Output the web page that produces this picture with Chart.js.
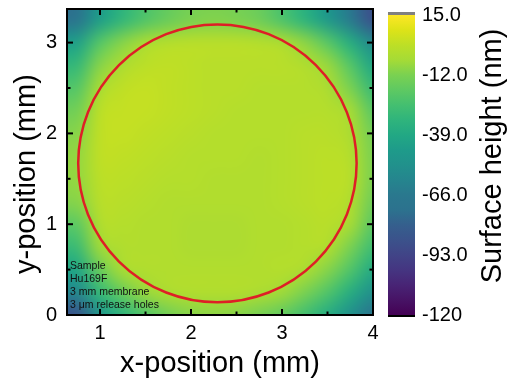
<!DOCTYPE html>
<html lang="en">
<head>
<meta charset="UTF-8">
<title>Surface height map</title>
<script src="https://cdn.jsdelivr.net/npm/chart.js@4.4.1/dist/chart.umd.min.js"></script>
<style>
  html, body { margin: 0; padding: 0; background: #fff; }
</style>
</head>
<body>
<canvas id="map" width="508" height="381"></canvas>
<script>
// measurement grid, cell centres in mm (rows listed top to bottom)
const xCenters = [0.75, 1.0, 1.25, 1.5, 1.75, 2.0, 2.25, 2.5, 2.75, 3.0, 3.25, 3.5, 3.75, 4.0];
const yCenters = [3.25, 3.0, 2.75, 2.5, 2.25, 2.0, 1.75, 1.5, 1.25, 1.0, 0.75, 0.5, 0.25, 0.0];
const cellSize = 0.25;

// surface height in nm
const heightGrid = [
  [-70, -44, -31, -22, -16, -12, -11, -12, -15, -23, -33, -47, -65, -87],
  [-43, -21, -10,  -4,  -1,   0,   0,   0,  -1,  -3,  -9, -20, -36, -57],
  [-30, -10,  -3,   1,   2,   1,   0,   0,   0,   0,  -2,  -7, -21, -40],
  [-21,  -4,   2,   3,   2,   1,   0,   0,  -1,  -1,  -1,  -3, -12, -29],
  [-14,   1,   3,   3,   2,   1,   0,  -1,  -1,  -1,  -1,  -1,  -5, -20],
  [-10,   2,   3,   2,   1,   0,  -1,  -1,  -1,  -1,   0,   0,  -3, -14],
  [ -8,   2,   2,   1,   0,  -1,  -1,  -1,  -2,  -1,   0,   1,  -1, -12],
  [ -8,   1,   1,   0,  -1,  -1,  -2,  -2,  -2,  -1,   0,   1,   0, -12],
  [-10,   0,   0,  -1,  -2,  -2,  -2,  -2,  -2,  -1,   0,   1,  -2, -15],
  [-19,  -2,  -1,  -2,  -2,  -3,  -3,  -3,  -2,  -2,  -1,   0,  -5, -20],
  [-28,  -6,  -2,  -2,  -2,  -3,  -3,  -3,  -2,  -2,  -1,  -2, -12, -27],
  [-40, -16,  -4,  -2,  -2,  -2,  -2,  -2,  -2,  -1,  -3, -10, -22, -38],
  [-58, -30, -16,  -7,  -3,  -2,  -2,  -2,  -3,  -6, -12, -22, -36, -53],
  [-85, -50, -33, -22, -14, -10,  -9, -10, -13, -18, -26, -37, -53, -72]
];

// fitted membrane edge (mm)
const circleCenter = [2.29, 1.67];
const circleRadius = 1.53;

const xTicks = [1, 2, 3, 4];
const xMinor = [1.5, 2.5, 3.5];
const yTicks = [0, 1, 2, 3];
const yMinor = [0.5, 1.5, 2.5];
const cbTicks = [-120, -93, -66, -39, -12, 15];
const cbLabels = ['-120', '-93.0', '-66.0', '-39.0', '-12.0', '15.0'];
const zMin = -120, zMax = 15;

const sampleNotes = ['Sample', 'Hu169F', '3 mm membrane', '3 \u03bcm release holes'];

// viridis colormap stops
const viridis = [
  [0.00, 68, 1, 84], [0.05, 71, 19, 101], [0.10, 72, 36, 117], [0.15, 69, 53, 129],
  [0.20, 65, 68, 135], [0.25, 59, 82, 139], [0.30, 53, 95, 141], [0.35, 44, 114, 142],
  [0.40, 42, 120, 142], [0.45, 37, 133, 142], [0.50, 33, 145, 140], [0.55, 30, 155, 138],
  [0.60, 34, 168, 132], [0.65, 47, 180, 124], [0.70, 68, 191, 112], [0.75, 94, 201, 98],
  [0.80, 122, 209, 81], [0.85, 165, 219, 54], [0.90, 189, 223, 38], [0.95, 221, 227, 24],
  [1.00, 253, 231, 37]
];

function colorAt(t) {
  t = Math.max(0, Math.min(1, t));
  for (let i = 1; i < viridis.length; i++) {
    const a = viridis[i - 1], b = viridis[i];
    if (t <= b[0]) {
      const f = (t - a[0]) / (b[0] - a[0]);
      return [1, 2, 3].map(k => Math.round(a[k] + (b[k] - a[k]) * f));
    }
  }
  return viridis[viridis.length - 1].slice(1);
}

const FONT = "'Liberation Sans', Arial, Helvetica, sans-serif";
Chart.defaults.font.family = FONT;
Chart.defaults.color = '#000';

function setTicks(list) {
  return s => { s.ticks = list.map(v => ({value: v})); };
}

const heatmapPlugin = {
  id: 'heatmap',
  beforeDatasetsDraw(chart) {
    const {ctx, chartArea: area, scales: {x, y}} = chart;
    const nx = xCenters.length, ny = yCenters.length;
    const img = document.createElement('canvas');
    img.width = nx; img.height = ny;
    const ictx = img.getContext('2d');
    const data = ictx.createImageData(nx, ny);
    heightGrid.forEach((row, j) => row.forEach((v, i) => {
      const c = colorAt((v - zMin) / (zMax - zMin));
      const p = (j * nx + i) * 4;
      data.data[p] = c[0]; data.data[p + 1] = c[1]; data.data[p + 2] = c[2]; data.data[p + 3] = 255;
    }));
    ictx.putImageData(data, 0, 0);

    const left = x.getPixelForValue(xCenters[0] - cellSize / 2);
    const right = x.getPixelForValue(xCenters[nx - 1] + cellSize / 2);
    const top = y.getPixelForValue(yCenters[0] + cellSize / 2);
    const bottom = y.getPixelForValue(yCenters[ny - 1] - cellSize / 2);

    ctx.save();
    ctx.beginPath();
    ctx.rect(area.left, area.top, area.right - area.left, area.bottom - area.top);
    ctx.clip();
    ctx.imageSmoothingEnabled = true;
    ctx.imageSmoothingQuality = 'high';
    ctx.drawImage(img, left, top, right - left, bottom - top);
    ctx.restore();
  },
  afterDatasetsDraw(chart) {
    const {ctx, chartArea: area, scales: {x, y, cb}} = chart;

    // membrane outline
    const cx = x.getPixelForValue(circleCenter[0]);
    const cy = y.getPixelForValue(circleCenter[1]);
    const rx = x.getPixelForValue(circleCenter[0] + circleRadius) - cx;
    const ry = cy - y.getPixelForValue(circleCenter[1] + circleRadius);
    ctx.save();
    ctx.strokeStyle = '#de1f26';
    ctx.lineWidth = 2.5;
    ctx.beginPath();
    ctx.ellipse(cx, cy, rx, ry, 0, 0, Math.PI * 2);
    ctx.stroke();

    // sample notes, bottom-left corner
    ctx.fillStyle = '#111';
    ctx.font = '10.5px ' + FONT;
    ctx.textAlign = 'left';
    ctx.textBaseline = 'middle';
    sampleNotes.forEach((t, i) => {
      ctx.fillText(t, area.left + 3, area.bottom - 10 - (sampleNotes.length - 1 - i) * 12.8);
    });

    // inward ticks on all four sides
    ctx.strokeStyle = '#000';
    ctx.lineWidth = 2;
    const tick = (x1, y1, x2, y2) => { ctx.beginPath(); ctx.moveTo(x1, y1); ctx.lineTo(x2, y2); ctx.stroke(); };
    [[xTicks, 6], [xMinor, 3.5]].forEach(([list, len]) => list.forEach(v => {
      const px = x.getPixelForValue(v);
      tick(px, area.bottom, px, area.bottom - len);
      tick(px, area.top, px, area.top + len);
    }));
    [[yTicks, 6], [yMinor, 3.5]].forEach(([list, len]) => list.forEach(v => {
      const py = y.getPixelForValue(v);
      tick(area.left, py, area.left + len, py);
      tick(area.right, py, area.right - len, py);
    }));
    ctx.strokeRect(area.left, area.top, area.right - area.left, area.bottom - area.top);

    // colour bar
    const barL = area.right + 15, barW = 27;
    const yLo = cb.getPixelForValue(zMin), yHi = cb.getPixelForValue(zMax);
    const grad = ctx.createLinearGradient(0, yLo, 0, yHi);
    viridis.forEach(s => grad.addColorStop(s[0], `rgb(${s[1]},${s[2]},${s[3]})`));
    ctx.fillStyle = grad;
    ctx.fillRect(barL, yHi, barW, yLo - yHi);
    ctx.fillStyle = '#808080';
    ctx.fillRect(barL, yHi - 3, barW, 3);
    ctx.fillStyle = '#000';
    ctx.fillRect(barL, yLo, barW, 2);

    // colour bar title, reading bottom to top
    ctx.translate(cb.right - 15, (yHi + yLo) / 2 - 9);
    ctx.rotate(-Math.PI / 2);
    ctx.font = '29px ' + FONT;
    ctx.textAlign = 'center';
    ctx.textBaseline = 'middle';
    ctx.fillStyle = '#000';
    ctx.fillText('Surface height (nm)', 0, 0);
    ctx.restore();
  }
};

new Chart(document.getElementById('map'), {
  type: 'scatter',
  data: { datasets: [] },
  options: {
    responsive: false,
    animation: false,
    layout: { padding: { top: 9, left: 0, right: 0, bottom: 0 } },
    plugins: { legend: { display: false }, tooltip: { enabled: false } },
    scales: {
      x: {
        type: 'linear', position: 'bottom', min: 0.637, max: 4.0,
        afterBuildTicks: setTicks(xTicks),
        afterFit: s => { s.height = 66; s.paddingLeft = 0; s.paddingRight = 0; },
        grid: { display: false, drawTicks: false },
        border: { display: false },
        ticks: { font: { size: 20 }, color: '#000', padding: 6, autoSkip: false, maxRotation: 0,
                 callback: v => String(v) },
        title: { display: true, text: 'x-position (mm)', font: { size: 29 }, color: '#000',
                 padding: { top: 0, bottom: 0 } }
      },
      y: {
        type: 'linear', position: 'left', min: 0, max: 3.37,
        afterBuildTicks: setTicks(yTicks),
        afterFit: s => { s.width = 67; s.paddingTop = 0; s.paddingBottom = 0; },
        grid: { display: false, drawTicks: false },
        border: { display: false },
        ticks: { font: { size: 20 }, color: '#000', padding: 10, autoSkip: false,
                 callback: v => String(v) },
        title: { display: true, text: 'y-position (mm)   ', font: { size: 29 }, color: '#000',
                 padding: { top: 10, bottom: 0 } }
      },
      cb: {
        type: 'linear', axis: 'y', position: 'right', min: zMin, max: 17.7,
        afterBuildTicks: setTicks(cbTicks),
        afterFit: s => { s.width = 135; s.paddingTop = 0; s.paddingBottom = 0; },
        grid: { display: false, drawTicks: false },
        border: { display: false },
        ticks: { font: { size: 20 }, color: '#000', padding: 49, autoSkip: false,
                 callback: (v, i) => cbLabels[i] }
      }
    }
  },
  plugins: [heatmapPlugin]
});
</script>
</body>
</html>
